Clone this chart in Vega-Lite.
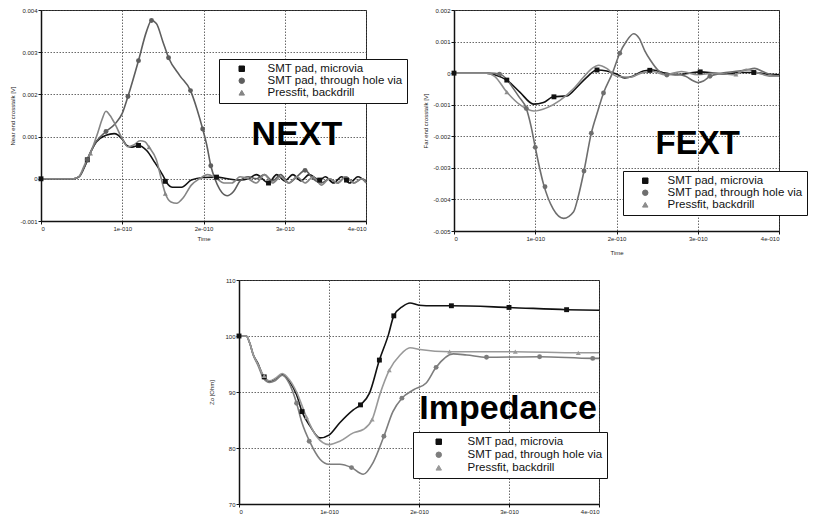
{
  "$schema": "https://vega.github.io/schema/vega-lite/v6.json",
  "background": "white",
  "padding": {"left": 9, "top": 6, "right": 5, "bottom": 0},
  "autosize": {"type": "pad"},
  "config": {
    "font": "Liberation Sans",
    "view": {"stroke": "#222", "strokeWidth": 1},
    "axis": {"labelFontSize": 6, "titleFontSize": 6, "titleFontWeight": "normal", "labelColor": "#222", "titleColor": "#222", "domainColor": "#111", "domainWidth": 1.5, "tickColor": "#111", "tickSize": 3, "gridColor": "#444", "gridDash": [1.5, 1.5], "gridWidth": 0.8, "labelPadding": 1, "titlePadding": 4}
  },
  "datasets": {
    "next_line": [
      {"series": "SMT pad, microvia", "t": 0, "v": 0}, {"series": "SMT pad, microvia", "t": 0.4, "v": 0}, {"series": "SMT pad, microvia", "t": 0.47, "v": 0.00005}, {"series": "SMT pad, microvia", "t": 0.54, "v": 0.0003}, {"series": "SMT pad, microvia", "t": 0.6, "v": 0.00058}, {"series": "SMT pad, microvia", "t": 0.68, "v": 0.00087}, {"series": "SMT pad, microvia", "t": 0.8, "v": 0.00103}, {"series": "SMT pad, microvia", "t": 0.9, "v": 0.00107}, {"series": "SMT pad, microvia", "t": 1.0, "v": 0.00094}, {"series": "SMT pad, microvia", "t": 1.05, "v": 0.0008}, {"series": "SMT pad, microvia", "t": 1.12, "v": 0.00075}, {"series": "SMT pad, microvia", "t": 1.2, "v": 0.00079}, {"series": "SMT pad, microvia", "t": 1.3, "v": 0.00067}, {"series": "SMT pad, microvia", "t": 1.4, "v": 0.00039}, {"series": "SMT pad, microvia", "t": 1.5, "v": 0.00008}, {"series": "SMT pad, microvia", "t": 1.55, "v": -0.0001}, {"series": "SMT pad, microvia", "t": 1.62, "v": -0.0002}, {"series": "SMT pad, microvia", "t": 1.73, "v": -0.0002}, {"series": "SMT pad, microvia", "t": 1.85, "v": -0.00003}, {"series": "SMT pad, microvia", "t": 2.0, "v": 0.00003}, {"series": "SMT pad, microvia", "t": 2.16, "v": 0.00004}, {"series": "SMT pad, microvia", "t": 2.3, "v": 0}, {"series": "SMT pad, microvia", "t": 2.45, "v": -0.00003}, {"series": "SMT pad, microvia", "t": 2.55, "v": 0}, {"series": "SMT pad, microvia", "t": 2.65, "v": 0.0001}, {"series": "SMT pad, microvia", "t": 2.8, "v": -0.0001}, {"series": "SMT pad, microvia", "t": 2.9, "v": 0.0001}, {"series": "SMT pad, microvia", "t": 3.0, "v": -0.00005}, {"series": "SMT pad, microvia", "t": 3.1, "v": 0.0001}, {"series": "SMT pad, microvia", "t": 3.2, "v": -0.00005}, {"series": "SMT pad, microvia", "t": 3.3, "v": 0.0001}, {"series": "SMT pad, microvia", "t": 3.43, "v": -0.00003}, {"series": "SMT pad, microvia", "t": 3.5, "v": 0.00005}, {"series": "SMT pad, microvia", "t": 3.6, "v": -0.0001}, {"series": "SMT pad, microvia", "t": 3.7, "v": 0.00005}, {"series": "SMT pad, microvia", "t": 3.8, "v": -0.0001}, {"series": "SMT pad, microvia", "t": 3.9, "v": 0.00005}, {"series": "SMT pad, microvia", "t": 4.0, "v": -0.00008},
      {"series": "SMT pad, through hole via", "t": 0, "v": 0}, {"series": "SMT pad, through hole via", "t": 0.4, "v": 0}, {"series": "SMT pad, through hole via", "t": 0.47, "v": 0.00005}, {"series": "SMT pad, through hole via", "t": 0.54, "v": 0.00031}, {"series": "SMT pad, through hole via", "t": 0.6, "v": 0.0006}, {"series": "SMT pad, through hole via", "t": 0.68, "v": 0.00088}, {"series": "SMT pad, through hole via", "t": 0.8, "v": 0.00112}, {"series": "SMT pad, through hole via", "t": 0.91, "v": 0.0013}, {"series": "SMT pad, through hole via", "t": 1.0, "v": 0.00155}, {"series": "SMT pad, through hole via", "t": 1.07, "v": 0.00195}, {"series": "SMT pad, through hole via", "t": 1.2, "v": 0.0028}, {"series": "SMT pad, through hole via", "t": 1.3, "v": 0.0035}, {"series": "SMT pad, through hole via", "t": 1.36, "v": 0.00375}, {"series": "SMT pad, through hole via", "t": 1.42, "v": 0.00368}, {"series": "SMT pad, through hole via", "t": 1.5, "v": 0.00325}, {"series": "SMT pad, through hole via", "t": 1.57, "v": 0.00287}, {"series": "SMT pad, through hole via", "t": 1.71, "v": 0.00244}, {"series": "SMT pad, through hole via", "t": 1.84, "v": 0.00209}, {"series": "SMT pad, through hole via", "t": 1.92, "v": 0.00165}, {"series": "SMT pad, through hole via", "t": 1.99, "v": 0.00118}, {"series": "SMT pad, through hole via", "t": 2.04, "v": 0.0008}, {"series": "SMT pad, through hole via", "t": 2.09, "v": 0.00031}, {"series": "SMT pad, through hole via", "t": 2.14, "v": 0}, {"series": "SMT pad, through hole via", "t": 2.2, "v": -0.00025}, {"series": "SMT pad, through hole via", "t": 2.29, "v": -0.0004}, {"series": "SMT pad, through hole via", "t": 2.37, "v": -0.0003}, {"series": "SMT pad, through hole via", "t": 2.45, "v": -0.00005}, {"series": "SMT pad, through hole via", "t": 2.55, "v": 0.00005}, {"series": "SMT pad, through hole via", "t": 2.65, "v": 0}, {"series": "SMT pad, through hole via", "t": 2.75, "v": 0.0001}, {"series": "SMT pad, through hole via", "t": 2.85, "v": -0.00005}, {"series": "SMT pad, through hole via", "t": 2.95, "v": 0.0001}, {"series": "SMT pad, through hole via", "t": 3.05, "v": -0.0001}, {"series": "SMT pad, through hole via", "t": 3.15, "v": 0.00005}, {"series": "SMT pad, through hole via", "t": 3.25, "v": 0.0002}, {"series": "SMT pad, through hole via", "t": 3.35, "v": 0}, {"series": "SMT pad, through hole via", "t": 3.45, "v": -0.0001}, {"series": "SMT pad, through hole via", "t": 3.55, "v": 0}, {"series": "SMT pad, through hole via", "t": 3.65, "v": -0.0001}, {"series": "SMT pad, through hole via", "t": 3.75, "v": 0.00005}, {"series": "SMT pad, through hole via", "t": 3.85, "v": -0.0001}, {"series": "SMT pad, through hole via", "t": 3.95, "v": 0}, {"series": "SMT pad, through hole via", "t": 4.0, "v": -0.00005},
      {"series": "Pressfit, backdrill", "t": 0, "v": 0}, {"series": "Pressfit, backdrill", "t": 0.4, "v": 0}, {"series": "Pressfit, backdrill", "t": 0.47, "v": 0.00006}, {"series": "Pressfit, backdrill", "t": 0.54, "v": 0.00035}, {"series": "Pressfit, backdrill", "t": 0.6, "v": 0.00058}, {"series": "Pressfit, backdrill", "t": 0.7, "v": 0.0011}, {"series": "Pressfit, backdrill", "t": 0.75, "v": 0.0014}, {"series": "Pressfit, backdrill", "t": 0.8, "v": 0.0016}, {"series": "Pressfit, backdrill", "t": 0.85, "v": 0.0015}, {"series": "Pressfit, backdrill", "t": 0.91, "v": 0.0013}, {"series": "Pressfit, backdrill", "t": 1.0, "v": 0.00095}, {"series": "Pressfit, backdrill", "t": 1.07, "v": 0.00076}, {"series": "Pressfit, backdrill", "t": 1.14, "v": 0.0008}, {"series": "Pressfit, backdrill", "t": 1.22, "v": 0.0009}, {"series": "Pressfit, backdrill", "t": 1.28, "v": 0.00088}, {"series": "Pressfit, backdrill", "t": 1.33, "v": 0.00075}, {"series": "Pressfit, backdrill", "t": 1.42, "v": 0.00045}, {"series": "Pressfit, backdrill", "t": 1.48, "v": 0}, {"series": "Pressfit, backdrill", "t": 1.53, "v": -0.00035}, {"series": "Pressfit, backdrill", "t": 1.6, "v": -0.00055}, {"series": "Pressfit, backdrill", "t": 1.67, "v": -0.00058}, {"series": "Pressfit, backdrill", "t": 1.75, "v": -0.00045}, {"series": "Pressfit, backdrill", "t": 1.85, "v": -0.00015}, {"series": "Pressfit, backdrill", "t": 1.95, "v": 0}, {"series": "Pressfit, backdrill", "t": 2.05, "v": 0.0001}, {"series": "Pressfit, backdrill", "t": 2.15, "v": 0.00002}, {"series": "Pressfit, backdrill", "t": 2.25, "v": -0.0001}, {"series": "Pressfit, backdrill", "t": 2.35, "v": -0.0001}, {"series": "Pressfit, backdrill", "t": 2.45, "v": 0.00005}, {"series": "Pressfit, backdrill", "t": 2.55, "v": 0}, {"series": "Pressfit, backdrill", "t": 2.65, "v": -0.0001}, {"series": "Pressfit, backdrill", "t": 2.75, "v": 0.0001}, {"series": "Pressfit, backdrill", "t": 2.85, "v": -0.0001}, {"series": "Pressfit, backdrill", "t": 2.95, "v": 0.00005}, {"series": "Pressfit, backdrill", "t": 3.05, "v": -0.0001}, {"series": "Pressfit, backdrill", "t": 3.15, "v": 0.00005}, {"series": "Pressfit, backdrill", "t": 3.25, "v": -0.0001}, {"series": "Pressfit, backdrill", "t": 3.35, "v": 0.00005}, {"series": "Pressfit, backdrill", "t": 3.45, "v": -0.00015}, {"series": "Pressfit, backdrill", "t": 3.55, "v": 0}, {"series": "Pressfit, backdrill", "t": 3.65, "v": -0.0001}, {"series": "Pressfit, backdrill", "t": 3.75, "v": 0.00005}, {"series": "Pressfit, backdrill", "t": 3.85, "v": -0.0001}, {"series": "Pressfit, backdrill", "t": 3.95, "v": 0}, {"series": "Pressfit, backdrill", "t": 4.0, "v": -0.0001}
    ],
    "next_mark": [
      {"series": "SMT pad, microvia", "t": 0, "v": 0}, {"series": "SMT pad, microvia", "t": 0.57, "v": 0.00045}, {"series": "SMT pad, microvia", "t": 1.2, "v": 0.00079}, {"series": "SMT pad, microvia", "t": 1.53, "v": -0.00006}, {"series": "SMT pad, microvia", "t": 2.16, "v": 0.00004}, {"series": "SMT pad, microvia", "t": 2.8, "v": -0.0001}, {"series": "SMT pad, microvia", "t": 3.43, "v": -0.00003}, {"series": "SMT pad, microvia", "t": 3.76, "v": -0.00003},
      {"series": "SMT pad, through hole via", "t": 0.57, "v": 0.00045}, {"series": "SMT pad, through hole via", "t": 0.8, "v": 0.00112}, {"series": "SMT pad, through hole via", "t": 1.07, "v": 0.00195}, {"series": "SMT pad, through hole via", "t": 1.2, "v": 0.0028}, {"series": "SMT pad, through hole via", "t": 1.36, "v": 0.00375}, {"series": "SMT pad, through hole via", "t": 1.57, "v": 0.00287}, {"series": "SMT pad, through hole via", "t": 1.84, "v": 0.00209}, {"series": "SMT pad, through hole via", "t": 1.99, "v": 0.00118}, {"series": "SMT pad, through hole via", "t": 2.09, "v": 0.00031}, {"series": "SMT pad, through hole via", "t": 3.25, "v": 0.0002},
      {"series": "Pressfit, backdrill", "t": 0.61, "v": 0.0006}, {"series": "Pressfit, backdrill", "t": 1.33, "v": 0.00075}, {"series": "Pressfit, backdrill", "t": 1.53, "v": -0.00035}
    ],
    "fext_line": [
      {"series": "SMT pad, microvia", "t": 0, "v": 0}, {"series": "SMT pad, microvia", "t": 0.4, "v": 0}, {"series": "SMT pad, microvia", "t": 0.5, "v": -0.00005}, {"series": "SMT pad, microvia", "t": 0.65, "v": -0.00022}, {"series": "SMT pad, microvia", "t": 0.81, "v": -0.0006}, {"series": "SMT pad, microvia", "t": 0.98, "v": -0.00098}, {"series": "SMT pad, microvia", "t": 1.1, "v": -0.00093}, {"series": "SMT pad, microvia", "t": 1.22, "v": -0.00075}, {"series": "SMT pad, microvia", "t": 1.39, "v": -0.00072}, {"series": "SMT pad, microvia", "t": 1.51, "v": -0.00045}, {"series": "SMT pad, microvia", "t": 1.63, "v": -0.00014}, {"series": "SMT pad, microvia", "t": 1.76, "v": 0.0001}, {"series": "SMT pad, microvia", "t": 1.88, "v": 0.00007}, {"series": "SMT pad, microvia", "t": 2.0, "v": -0.00003}, {"series": "SMT pad, microvia", "t": 2.1, "v": -0.00015}, {"series": "SMT pad, microvia", "t": 2.2, "v": -0.0001}, {"series": "SMT pad, microvia", "t": 2.33, "v": 0.00007}, {"series": "SMT pad, microvia", "t": 2.45, "v": 0.0001}, {"series": "SMT pad, microvia", "t": 2.6, "v": 0}, {"series": "SMT pad, microvia", "t": 2.75, "v": -0.00005}, {"series": "SMT pad, microvia", "t": 2.9, "v": 0}, {"series": "SMT pad, microvia", "t": 3.03, "v": 0.00004}, {"series": "SMT pad, microvia", "t": 3.2, "v": 0}, {"series": "SMT pad, microvia", "t": 3.35, "v": -0.00003}, {"series": "SMT pad, microvia", "t": 3.5, "v": 0.00002}, {"series": "SMT pad, microvia", "t": 3.7, "v": 0.00002}, {"series": "SMT pad, microvia", "t": 3.85, "v": -0.00003}, {"series": "SMT pad, microvia", "t": 4.0, "v": -0.00005},
      {"series": "SMT pad, through hole via", "t": 0, "v": 0}, {"series": "SMT pad, through hole via", "t": 0.45, "v": 0}, {"series": "SMT pad, through hole via", "t": 0.56, "v": -0.00003}, {"series": "SMT pad, through hole via", "t": 0.65, "v": -0.0002}, {"series": "SMT pad, through hole via", "t": 0.72, "v": -0.00045}, {"series": "SMT pad, through hole via", "t": 0.8, "v": -0.00075}, {"series": "SMT pad, through hole via", "t": 0.89, "v": -0.00112}, {"series": "SMT pad, through hole via", "t": 0.95, "v": -0.0017}, {"series": "SMT pad, through hole via", "t": 1.0, "v": -0.00235}, {"series": "SMT pad, through hole via", "t": 1.1, "v": -0.0035}, {"series": "SMT pad, through hole via", "t": 1.22, "v": -0.0043}, {"series": "SMT pad, through hole via", "t": 1.35, "v": -0.0046}, {"series": "SMT pad, through hole via", "t": 1.47, "v": -0.0044}, {"series": "SMT pad, through hole via", "t": 1.53, "v": -0.0039}, {"series": "SMT pad, through hole via", "t": 1.6, "v": -0.0031}, {"series": "SMT pad, through hole via", "t": 1.69, "v": -0.0019}, {"series": "SMT pad, through hole via", "t": 1.77, "v": -0.0012}, {"series": "SMT pad, through hole via", "t": 1.84, "v": -0.00063}, {"series": "SMT pad, through hole via", "t": 1.95, "v": 0}, {"series": "SMT pad, through hole via", "t": 2.04, "v": 0.00063}, {"series": "SMT pad, through hole via", "t": 2.12, "v": 0.001}, {"series": "SMT pad, through hole via", "t": 2.21, "v": 0.00125}, {"series": "SMT pad, through hole via", "t": 2.28, "v": 0.0011}, {"series": "SMT pad, through hole via", "t": 2.35, "v": 0.0007}, {"series": "SMT pad, through hole via", "t": 2.42, "v": 0.0004}, {"series": "SMT pad, through hole via", "t": 2.52, "v": 0.00007}, {"series": "SMT pad, through hole via", "t": 2.62, "v": -0.00006}, {"series": "SMT pad, through hole via", "t": 2.74, "v": -0.00003}, {"series": "SMT pad, through hole via", "t": 2.85, "v": -0.0001}, {"series": "SMT pad, through hole via", "t": 2.95, "v": -0.00025}, {"series": "SMT pad, through hole via", "t": 3.0, "v": -0.0003}, {"series": "SMT pad, through hole via", "t": 3.07, "v": -0.00025}, {"series": "SMT pad, through hole via", "t": 3.15, "v": -0.0001}, {"series": "SMT pad, through hole via", "t": 3.3, "v": 0}, {"series": "SMT pad, through hole via", "t": 3.45, "v": 0.00005}, {"series": "SMT pad, through hole via", "t": 3.6, "v": 0.0001}, {"series": "SMT pad, through hole via", "t": 3.7, "v": 0.00015}, {"series": "SMT pad, through hole via", "t": 3.8, "v": 0.00005}, {"series": "SMT pad, through hole via", "t": 3.9, "v": -0.00005}, {"series": "SMT pad, through hole via", "t": 4.0, "v": -0.0001},
      {"series": "Pressfit, backdrill", "t": 0, "v": 0}, {"series": "Pressfit, backdrill", "t": 0.4, "v": 0}, {"series": "Pressfit, backdrill", "t": 0.5, "v": -0.0001}, {"series": "Pressfit, backdrill", "t": 0.65, "v": -0.0006}, {"series": "Pressfit, backdrill", "t": 0.81, "v": -0.001}, {"series": "Pressfit, backdrill", "t": 0.98, "v": -0.0012}, {"series": "Pressfit, backdrill", "t": 1.14, "v": -0.0011}, {"series": "Pressfit, backdrill", "t": 1.3, "v": -0.00087}, {"series": "Pressfit, backdrill", "t": 1.47, "v": -0.0005}, {"series": "Pressfit, backdrill", "t": 1.59, "v": -0.00014}, {"series": "Pressfit, backdrill", "t": 1.7, "v": 0.00015}, {"series": "Pressfit, backdrill", "t": 1.78, "v": 0.00025}, {"series": "Pressfit, backdrill", "t": 1.88, "v": 0.00015}, {"series": "Pressfit, backdrill", "t": 2.0, "v": -0.0001}, {"series": "Pressfit, backdrill", "t": 2.17, "v": -0.00013}, {"series": "Pressfit, backdrill", "t": 2.3, "v": 0}, {"series": "Pressfit, backdrill", "t": 2.45, "v": 0.00005}, {"series": "Pressfit, backdrill", "t": 2.6, "v": -0.00005}, {"series": "Pressfit, backdrill", "t": 2.8, "v": 0.00005}, {"series": "Pressfit, backdrill", "t": 3.0, "v": -0.00005}, {"series": "Pressfit, backdrill", "t": 3.2, "v": 0}, {"series": "Pressfit, backdrill", "t": 3.45, "v": -0.00005}, {"series": "Pressfit, backdrill", "t": 3.6, "v": 0.00012}, {"series": "Pressfit, backdrill", "t": 3.75, "v": 0}, {"series": "Pressfit, backdrill", "t": 3.9, "v": -0.0001}, {"series": "Pressfit, backdrill", "t": 4.0, "v": -0.0001}
    ],
    "fext_mark": [
      {"series": "SMT pad, microvia", "t": 0, "v": 0}, {"series": "SMT pad, microvia", "t": 0.65, "v": -0.00022}, {"series": "SMT pad, microvia", "t": 1.23, "v": -0.00075}, {"series": "SMT pad, microvia", "t": 1.76, "v": 0.0001}, {"series": "SMT pad, microvia", "t": 2.41, "v": 0.00009}, {"series": "SMT pad, microvia", "t": 3.03, "v": 0.00004}, {"series": "SMT pad, microvia", "t": 3.69, "v": 0.00002},
      {"series": "SMT pad, through hole via", "t": 0.56, "v": -0.00003}, {"series": "SMT pad, through hole via", "t": 0.89, "v": -0.00112}, {"series": "SMT pad, through hole via", "t": 1.0, "v": -0.00235}, {"series": "SMT pad, through hole via", "t": 1.12, "v": -0.0036}, {"series": "SMT pad, through hole via", "t": 1.6, "v": -0.0031}, {"series": "SMT pad, through hole via", "t": 1.69, "v": -0.0019}, {"series": "SMT pad, through hole via", "t": 1.84, "v": -0.00063}, {"series": "SMT pad, through hole via", "t": 2.04, "v": 0.00063}, {"series": "SMT pad, through hole via", "t": 2.62, "v": -0.00006}, {"series": "SMT pad, through hole via", "t": 3.15, "v": -0.0001},
      {"series": "Pressfit, backdrill", "t": 0.65, "v": -0.0006}, {"series": "Pressfit, backdrill", "t": 3.47, "v": -0.00004}
    ],
    "imp_line": [
      {"series": "SMT pad, microvia", "t": 0, "v": 100}, {"series": "SMT pad, microvia", "t": 0.08, "v": 100}, {"series": "SMT pad, microvia", "t": 0.12, "v": 98.7}, {"series": "SMT pad, microvia", "t": 0.16, "v": 96.6}, {"series": "SMT pad, microvia", "t": 0.21, "v": 95.1}, {"series": "SMT pad, microvia", "t": 0.27, "v": 92.8}, {"series": "SMT pad, microvia", "t": 0.34, "v": 91.9}, {"series": "SMT pad, microvia", "t": 0.4, "v": 92.3}, {"series": "SMT pad, microvia", "t": 0.48, "v": 93.1}, {"series": "SMT pad, microvia", "t": 0.56, "v": 91.9}, {"series": "SMT pad, microvia", "t": 0.64, "v": 89.5}, {"series": "SMT pad, microvia", "t": 0.7, "v": 86.5}, {"series": "SMT pad, microvia", "t": 0.79, "v": 83.9}, {"series": "SMT pad, microvia", "t": 0.9, "v": 81.8}, {"series": "SMT pad, microvia", "t": 1.0, "v": 82.3}, {"series": "SMT pad, microvia", "t": 1.12, "v": 84.5}, {"series": "SMT pad, microvia", "t": 1.27, "v": 86.8}, {"series": "SMT pad, microvia", "t": 1.35, "v": 87.7}, {"series": "SMT pad, microvia", "t": 1.45, "v": 89.8}, {"series": "SMT pad, microvia", "t": 1.56, "v": 95.7}, {"series": "SMT pad, microvia", "t": 1.66, "v": 100.2}, {"series": "SMT pad, microvia", "t": 1.72, "v": 103.6}, {"series": "SMT pad, microvia", "t": 1.82, "v": 105.3}, {"series": "SMT pad, microvia", "t": 1.9, "v": 105.9}, {"series": "SMT pad, microvia", "t": 2.0, "v": 105.5}, {"series": "SMT pad, microvia", "t": 2.16, "v": 105.4}, {"series": "SMT pad, microvia", "t": 2.36, "v": 105.4}, {"series": "SMT pad, microvia", "t": 3.0, "v": 105.1}, {"series": "SMT pad, microvia", "t": 3.64, "v": 104.7}, {"series": "SMT pad, microvia", "t": 4.0, "v": 104.6},
      {"series": "SMT pad, through hole via", "t": 0, "v": 100}, {"series": "SMT pad, through hole via", "t": 0.08, "v": 100}, {"series": "SMT pad, through hole via", "t": 0.12, "v": 98.7}, {"series": "SMT pad, through hole via", "t": 0.16, "v": 96.5}, {"series": "SMT pad, through hole via", "t": 0.21, "v": 94.8}, {"series": "SMT pad, through hole via", "t": 0.27, "v": 92.5}, {"series": "SMT pad, through hole via", "t": 0.34, "v": 91.7}, {"series": "SMT pad, through hole via", "t": 0.4, "v": 92.0}, {"series": "SMT pad, through hole via", "t": 0.48, "v": 93.0}, {"series": "SMT pad, through hole via", "t": 0.56, "v": 91.5}, {"series": "SMT pad, through hole via", "t": 0.64, "v": 88.0}, {"series": "SMT pad, through hole via", "t": 0.7, "v": 84.5}, {"series": "SMT pad, through hole via", "t": 0.79, "v": 81.0}, {"series": "SMT pad, through hole via", "t": 0.9, "v": 78.0}, {"series": "SMT pad, through hole via", "t": 1.0, "v": 77.1}, {"series": "SMT pad, through hole via", "t": 1.12, "v": 77.1}, {"series": "SMT pad, through hole via", "t": 1.25, "v": 76.5}, {"series": "SMT pad, through hole via", "t": 1.38, "v": 75.3}, {"series": "SMT pad, through hole via", "t": 1.49, "v": 77.4}, {"series": "SMT pad, through hole via", "t": 1.61, "v": 82.1}, {"series": "SMT pad, through hole via", "t": 1.71, "v": 86.5}, {"series": "SMT pad, through hole via", "t": 1.81, "v": 88.9}, {"series": "SMT pad, through hole via", "t": 1.94, "v": 90.4}, {"series": "SMT pad, through hole via", "t": 2.08, "v": 91.6}, {"series": "SMT pad, through hole via", "t": 2.19, "v": 94.4}, {"series": "SMT pad, through hole via", "t": 2.38, "v": 96.8}, {"series": "SMT pad, through hole via", "t": 2.53, "v": 96.6}, {"series": "SMT pad, through hole via", "t": 2.75, "v": 96.2}, {"series": "SMT pad, through hole via", "t": 3.34, "v": 96.3}, {"series": "SMT pad, through hole via", "t": 3.93, "v": 96.0}, {"series": "SMT pad, through hole via", "t": 4.0, "v": 96.0},
      {"series": "Pressfit, backdrill", "t": 0, "v": 100}, {"series": "Pressfit, backdrill", "t": 0.08, "v": 100}, {"series": "Pressfit, backdrill", "t": 0.12, "v": 98.7}, {"series": "Pressfit, backdrill", "t": 0.16, "v": 96.6}, {"series": "Pressfit, backdrill", "t": 0.21, "v": 95.0}, {"series": "Pressfit, backdrill", "t": 0.27, "v": 93.0}, {"series": "Pressfit, backdrill", "t": 0.34, "v": 92.0}, {"series": "Pressfit, backdrill", "t": 0.4, "v": 92.4}, {"series": "Pressfit, backdrill", "t": 0.48, "v": 93.3}, {"series": "Pressfit, backdrill", "t": 0.56, "v": 92.2}, {"series": "Pressfit, backdrill", "t": 0.64, "v": 90.0}, {"series": "Pressfit, backdrill", "t": 0.75, "v": 85.5}, {"series": "Pressfit, backdrill", "t": 0.86, "v": 82.1}, {"series": "Pressfit, backdrill", "t": 1.0, "v": 80.6}, {"series": "Pressfit, backdrill", "t": 1.12, "v": 81.2}, {"series": "Pressfit, backdrill", "t": 1.27, "v": 82.7}, {"series": "Pressfit, backdrill", "t": 1.38, "v": 83.3}, {"series": "Pressfit, backdrill", "t": 1.48, "v": 85.1}, {"series": "Pressfit, backdrill", "t": 1.57, "v": 89.8}, {"series": "Pressfit, backdrill", "t": 1.67, "v": 93.9}, {"series": "Pressfit, backdrill", "t": 1.79, "v": 96.6}, {"series": "Pressfit, backdrill", "t": 1.9, "v": 97.9}, {"series": "Pressfit, backdrill", "t": 2.01, "v": 97.6}, {"series": "Pressfit, backdrill", "t": 2.34, "v": 97.2}, {"series": "Pressfit, backdrill", "t": 3.07, "v": 97.2}, {"series": "Pressfit, backdrill", "t": 3.77, "v": 97.0}, {"series": "Pressfit, backdrill", "t": 4.0, "v": 97.0}
    ],
    "imp_mark": [
      {"series": "SMT pad, microvia", "t": 0, "v": 100}, {"series": "SMT pad, microvia", "t": 0.28, "v": 92.7}, {"series": "SMT pad, microvia", "t": 0.7, "v": 86.5}, {"series": "SMT pad, microvia", "t": 1.35, "v": 87.7}, {"series": "SMT pad, microvia", "t": 1.56, "v": 95.7}, {"series": "SMT pad, microvia", "t": 1.72, "v": 103.6}, {"series": "SMT pad, microvia", "t": 2.36, "v": 105.4}, {"series": "SMT pad, microvia", "t": 3.0, "v": 105.1}, {"series": "SMT pad, microvia", "t": 3.64, "v": 104.7},
      {"series": "SMT pad, through hole via", "t": 0.64, "v": 88.0}, {"series": "SMT pad, through hole via", "t": 0.78, "v": 81.2}, {"series": "SMT pad, through hole via", "t": 1.25, "v": 76.5}, {"series": "SMT pad, through hole via", "t": 1.61, "v": 82.1}, {"series": "SMT pad, through hole via", "t": 1.81, "v": 88.9}, {"series": "SMT pad, through hole via", "t": 2.19, "v": 94.4}, {"series": "SMT pad, through hole via", "t": 2.75, "v": 96.2}, {"series": "SMT pad, through hole via", "t": 3.34, "v": 96.3}, {"series": "SMT pad, through hole via", "t": 3.93, "v": 96.0},
      {"series": "Pressfit, backdrill", "t": 0.28, "v": 92.9}, {"series": "Pressfit, backdrill", "t": 0.75, "v": 85.5}, {"series": "Pressfit, backdrill", "t": 1.48, "v": 85.1}, {"series": "Pressfit, backdrill", "t": 1.67, "v": 93.9}, {"series": "Pressfit, backdrill", "t": 2.34, "v": 97.2}, {"series": "Pressfit, backdrill", "t": 3.07, "v": 97.2}, {"series": "Pressfit, backdrill", "t": 3.77, "v": 97.0}
    ]
  },
  "bounds": "flush",
  "spacing": 270,
  "resolve": {"scale": {"color": "independent", "shape": "independent", "x": "independent", "y": "independent"}, "legend": {"color": "independent", "shape": "independent"}},
  "vconcat": [
    {
      "bounds": "flush",
      "spacing": 88,
      "resolve": {"scale": {"color": "independent", "shape": "independent", "x": "independent", "y": "independent"}, "legend": {"color": "independent", "shape": "independent"}},
      "hconcat": [
        {
          "width": 325,
          "height": 211,
          "encoding": {
            "x": {"field": "t", "type": "quantitative", "scale": {"domain": [0, 4], "nice": false}, "axis": {"values": [0, 1, 2, 3, 4], "labelExpr": "datum.value == 0 ? '0' : datum.value + 'e-010'", "title": "Time"}},
            "y": {"field": "v", "type": "quantitative", "scale": {"domain": [-0.001, 0.004], "nice": false, "zero": false}, "axis": {"values": [-0.001, 0, 0.001, 0.002, 0.003, 0.004], "labelExpr": "toString(datum.value)", "title": "Near end crosstalk [V]"}}
          },
          "layer": [
            {
              "data": {"name": "next_line"},
              "mark": {"type": "line", "interpolate": "monotone", "strokeWidth": 1.6},
              "encoding": {
                "color": {"field": "series", "type": "nominal", "scale": {"domain": ["SMT pad, microvia", "SMT pad, through hole via", "Pressfit, backdrill"], "range": ["#111111", "#5e5e5e", "#858585"]},
                  "legend": {"title": null, "orient": "none", "legendX": 178, "legendY": 49, "padding": 4, "strokeColor": "#111", "fillColor": "white", "labelFontSize": 11.5, "labelColor": "#111", "labelFont": "Liberation Sans", "labelLimit": 300, "symbolSize": 30, "symbolStrokeWidth": 1, "symbolOffset": 13, "labelOffset": 20, "rowPadding": -1,
                    "encode": {"symbols": {"update": {
                      "fill": {"value": {"expr": "datum.value === 'SMT pad, microvia' ? '#111111' : datum.value === 'SMT pad, through hole via' ? '#5e5e5e' : '#858585'"}},
                      "stroke": {"value": {"expr": "datum.value === 'SMT pad, microvia' ? '#111111' : datum.value === 'SMT pad, through hole via' ? '#5e5e5e' : '#858585'"}}
                    }}}
                  }
                },
                "detail": {"field": "series"}
              }
            },
            {
              "data": {"name": "next_mark"},
              "mark": {"type": "point", "filled": true, "opacity": 1, "size": 24},
              "encoding": {
                "color": {"field": "series", "type": "nominal", "legend": null},
                "shape": {"field": "series", "type": "nominal", "scale": {"domain": ["SMT pad, microvia", "SMT pad, through hole via", "Pressfit, backdrill"], "range": ["square", "circle", "triangle-up"]}, "legend": null}
              }
            },
            {
              "data": {"values": [{"label": "NEXT", "t": 3.15, "v": 0.00079}]},
              "mark": {"type": "text", "fontSize": 34, "fontWeight": "bold", "font": "Liberation Sans", "align": "center", "baseline": "alphabetic", "color": "#000"},
              "encoding": {"text": {"field": "label"}}
            }
          ]
        },
        {
          "width": 325,
          "height": 221,
          "encoding": {
            "x": {"field": "t", "type": "quantitative", "scale": {"domain": [0, 4], "nice": false}, "axis": {"values": [0, 1, 2, 3, 4], "labelExpr": "datum.value == 0 ? '0' : datum.value + 'e-010'", "title": "Time", "titlePadding": 8}},
            "y": {"field": "v", "type": "quantitative", "scale": {"domain": [-0.005, 0.002], "nice": false, "zero": false}, "axis": {"values": [-0.005, -0.004, -0.003, -0.002, -0.001, 0, 0.001, 0.002], "labelExpr": "toString(datum.value)", "title": "Far end crosstalk [V]"}}
          },
          "layer": [
            {
              "data": {"name": "fext_line"},
              "mark": {"type": "line", "interpolate": "monotone", "strokeWidth": 1.6},
              "encoding": {
                "color": {"field": "series", "type": "nominal", "scale": {"domain": ["SMT pad, microvia", "SMT pad, through hole via", "Pressfit, backdrill"], "range": ["#111111", "#6e6e6e", "#8c8c8c"]},
                  "legend": {"title": null, "orient": "none", "legendX": 169, "legendY": 161, "padding": 4, "strokeColor": "#111", "fillColor": "white", "labelFontSize": 11.5, "labelColor": "#111", "labelFont": "Liberation Sans", "labelLimit": 300, "symbolSize": 30, "symbolStrokeWidth": 1, "symbolOffset": 12.5, "labelOffset": 16.5, "rowPadding": -1,
                    "encode": {"symbols": {"update": {
                      "fill": {"value": {"expr": "datum.value === 'SMT pad, microvia' ? '#111111' : datum.value === 'SMT pad, through hole via' ? '#6e6e6e' : '#8c8c8c'"}},
                      "stroke": {"value": {"expr": "datum.value === 'SMT pad, microvia' ? '#111111' : datum.value === 'SMT pad, through hole via' ? '#6e6e6e' : '#8c8c8c'"}}
                    }}}
                  }
                },
                "detail": {"field": "series"}
              }
            },
            {
              "data": {"name": "fext_mark"},
              "mark": {"type": "point", "filled": true, "opacity": 1, "size": 24},
              "encoding": {
                "color": {"field": "series", "type": "nominal", "legend": null},
                "shape": {"field": "series", "type": "nominal", "scale": {"domain": ["SMT pad, microvia", "SMT pad, through hole via", "Pressfit, backdrill"], "range": ["square", "circle", "triangle-up"]}, "legend": null}
              }
            },
            {
              "data": {"values": [{"label": "FEXT", "t": 3.0, "v": -0.00257}]},
              "mark": {"type": "text", "fontSize": 33, "fontWeight": "bold", "font": "Liberation Sans", "align": "center", "baseline": "alphabetic", "color": "#000"},
              "encoding": {"text": {"field": "label"}}
            }
          ]
        }
      ]
    },
    {
      "bounds": "flush",
      "spacing": 197,
      "resolve": {"scale": {"color": "independent", "shape": "independent", "x": "independent", "y": "independent"}, "legend": {"color": "independent", "shape": "independent"}},
      "hconcat": [
        {
          "width": 1,
          "height": 1,
          "view": {"stroke": null},
          "data": {"values": []},
          "mark": {"type": "point", "opacity": 0},
          "encoding": {}
        },
        {
          "width": 360,
          "height": 224,
          "encoding": {
            "x": {"field": "t", "type": "quantitative", "scale": {"domain": [0, 4], "nice": false}, "axis": {"values": [0, 1, 2, 3, 4], "labelExpr": "datum.value == 0 ? '0' : datum.value + 'e-010'", "title": null}},
            "y": {"field": "v", "type": "quantitative", "scale": {"domain": [70, 110], "nice": false, "zero": false}, "axis": {"values": [70, 80, 90, 100, 110], "title": "Zo [Ohm]", "titlePadding": 10}}
          },
          "layer": [
            {
              "data": {"name": "imp_line"},
              "mark": {"type": "line", "interpolate": "monotone", "strokeWidth": 1.6},
              "encoding": {
                "color": {"field": "series", "type": "nominal", "scale": {"domain": ["SMT pad, microvia", "SMT pad, through hole via", "Pressfit, backdrill"], "range": ["#111111", "#7d7d7d", "#999999"]},
                  "legend": {"title": null, "orient": "none", "legendX": 174, "legendY": 152, "padding": 4, "strokeColor": "#111", "fillColor": "white", "labelFontSize": 11.5, "labelColor": "#111", "labelFont": "Liberation Sans", "labelLimit": 300, "symbolSize": 30, "symbolStrokeWidth": 1, "symbolOffset": 16, "labelOffset": 23, "rowPadding": 0,
                    "encode": {"symbols": {"update": {
                      "fill": {"value": {"expr": "datum.value === 'SMT pad, microvia' ? '#111111' : datum.value === 'SMT pad, through hole via' ? '#7d7d7d' : '#999999'"}},
                      "stroke": {"value": {"expr": "datum.value === 'SMT pad, microvia' ? '#111111' : datum.value === 'SMT pad, through hole via' ? '#7d7d7d' : '#999999'"}}
                    }}}
                  }
                },
                "detail": {"field": "series"}
              }
            },
            {
              "data": {"name": "imp_mark"},
              "mark": {"type": "point", "filled": true, "opacity": 1, "size": 24},
              "encoding": {
                "color": {"field": "series", "type": "nominal", "legend": null},
                "shape": {"field": "series", "type": "nominal", "scale": {"domain": ["SMT pad, microvia", "SMT pad, through hole via", "Pressfit, backdrill"], "range": ["square", "circle", "triangle-up"]}, "legend": null}
              }
            },
            {
              "data": {"values": [{"label": "Impedance", "t": 2.99, "v": 85.2}]},
              "mark": {"type": "text", "fontSize": 34, "fontWeight": "bold", "font": "Liberation Sans", "align": "center", "baseline": "alphabetic", "color": "#000"},
              "encoding": {"text": {"field": "label"}}
            }
          ]
        }
      ]
    }
  ]
}
